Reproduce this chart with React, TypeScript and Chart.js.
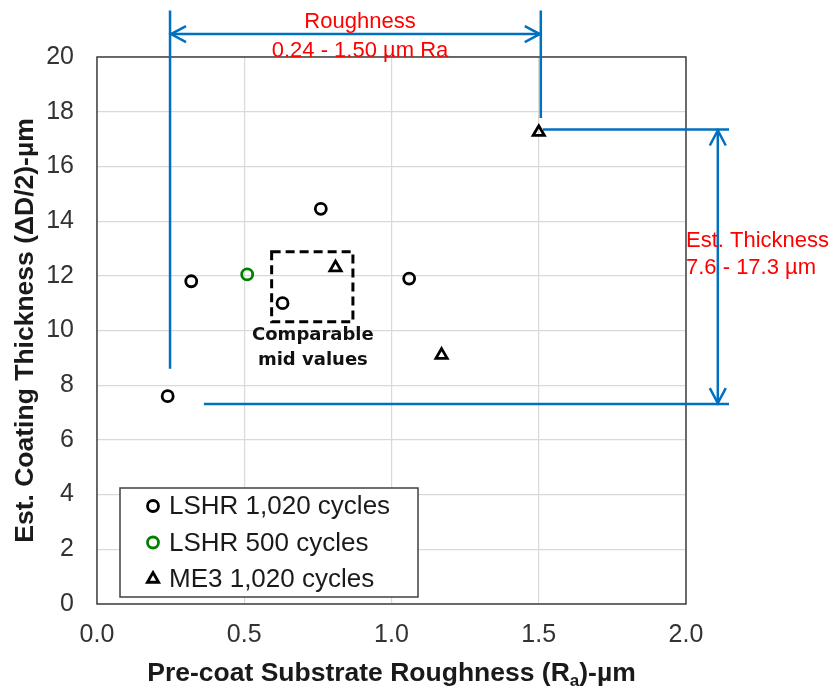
import React, { useEffect, useRef } from "react";
import { Chart, registerables } from "chart.js";

Chart.register(...registerables);

// ---- data ----
const xTickValues = [0, 0.5, 1.0, 1.5, 2.0];
const yTickValues = [0, 2, 4, 6, 8, 10, 12, 14, 16, 18, 20];
const seriesLabels = ["LSHR 1,020 cycles", "LSHR 500 cycles", "ME3 1,020 cycles"];
const lshr1020X = [0.24, 0.32, 0.63, 0.76, 1.06];
const lshr1020Y = [7.6, 11.8, 11.0, 14.45, 11.9];
const lshr500X = [0.51];
const lshr500Y = [12.05];
const me3X = [0.81, 1.17, 1.5];
const me3Y = [12.3, 9.1, 17.25];

// ---- annotation text ----
const roughText = ["Roughness", "0.24 - 1.50 µm Ra"];
const thickText = ["Est. Thickness", "7.6 - 17.3 µm"];
const boxText = ["Comparable", "mid values"];
const xTitleParts = ["Pre-coat Substrate Roughness (R", "a", ")-µm"];
const yTitle = "Est. Coating Thickness (ΔD/2)-µm";

// ---- annotation geometry (data coordinates) ----
const roughBracketX = [0.248, 1.507];
const roughBracketTopY = 21.7;
const roughBracketBottomY = [8.6, 17.77];
const roughArrowY = 20.84;
const thickBracketY = [17.35, 7.31];
const thickBracketLeftX = [1.514, 0.363];
const thickBracketRightX = 2.146;
const thickArrowX = 2.108;
const midBoxX = [0.593, 0.869];
const midBoxY = [10.32, 12.88];
const roughTextPos = { x: 0.893, y: [21.05, 20.0] };
const thickTextPos = { x: 2.0, y: [13.07, 12.05] };
const boxTextPos = { x: 0.733, y: [9.65, 8.74] };

const BLUE = "#0070C0";
const RED = "#FF0000";
const FONT = "'Liberation Sans', Arial, sans-serif";

const toPts = (xs: number[], ys: number[]) => xs.map((v, i) => ({ x: v, y: ys[i] }));

function drawMarker(ctx: CanvasRenderingContext2D, style: string, x: number, y: number, r: number, color: string, lw: number) {
  ctx.save();
  ctx.strokeStyle = color;
  ctx.lineWidth = lw;
  ctx.beginPath();
  if (style === "triangle") {
    let rad = 0;
    ctx.moveTo(x + Math.sin(rad) * r, y - Math.cos(rad) * r);
    rad += (2 * Math.PI) / 3;
    ctx.lineTo(x + Math.sin(rad) * r, y - Math.cos(rad) * r);
    rad += (2 * Math.PI) / 3;
    ctx.lineTo(x + Math.sin(rad) * r, y - Math.cos(rad) * r);
    ctx.closePath();
  } else {
    ctx.arc(x, y, r, 0, Math.PI * 2);
  }
  ctx.stroke();
  ctx.restore();
}

function arrowHead(ctx: CanvasRenderingContext2D, tx: number, ty: number, dx: number, dy: number) {
  const len = 15;
  const half = 8;
  const px = -dy;
  const py = dx;
  ctx.beginPath();
  ctx.moveTo(tx - dx * len + px * half, ty - dy * len + py * half);
  ctx.lineTo(tx, ty);
  ctx.lineTo(tx - dx * len - px * half, ty - dy * len - py * half);
  ctx.stroke();
}

const overlayPlugin = {
  id: "overlay",
  afterDraw(chart: any) {
    const { ctx, chartArea: ca, scales } = chart;
    const xs = scales.x;
    const ys = scales.y;
    const px = (v: number) => xs.getPixelForValue(v);
    const py = (v: number) => ys.getPixelForValue(v);
    ctx.save();

    // plot border
    ctx.strokeStyle = "#404040";
    ctx.lineWidth = 1.5;
    ctx.strokeRect(ca.left, ca.top, ca.right - ca.left, ca.bottom - ca.top);

    // legend
    const lx = ca.left + 23;
    const ly = ca.bottom - 116;
    const lw = 298;
    const lh = 109;
    ctx.fillStyle = "#ffffff";
    ctx.fillRect(lx, ly, lw, lh);
    ctx.strokeStyle = "#404040";
    ctx.lineWidth = 1.5;
    ctx.strokeRect(lx, ly, lw, lh);
    ctx.font = `26px ${FONT}`;
    ctx.textBaseline = "middle";
    ctx.textAlign = "left";
    chart.data.datasets.forEach((ds: any, i: number) => {
      const cy = ly + 18 + i * 36.5;
      drawMarker(ctx, ds.pointStyle, lx + 33, cy, ds.pointStyle === "triangle" ? 6.5 : 5.5, ds.borderColor, 2.8);
      ctx.fillStyle = "#1a1a1a";
      ctx.fillText(ds.label, lx + 49, cy + 1);
    });

    // dashed comparison box
    ctx.strokeStyle = "#000000";
    ctx.lineWidth = 3;
    ctx.setLineDash([9, 5]);
    const bx0 = px(midBoxX[0]);
    const bx1 = px(midBoxX[1]);
    const by0 = py(midBoxY[1]);
    const by1 = py(midBoxY[0]);
    ctx.strokeRect(bx0, by0, bx1 - bx0, by1 - by0);
    ctx.setLineDash([]);

    ctx.fillStyle = "#111111";
    ctx.font = `bold 18px 'DejaVu Sans', sans-serif`;
    ctx.textAlign = "center";
    ctx.textBaseline = "alphabetic";
    boxText.forEach((t, i) => ctx.fillText(t, px(boxTextPos.x), py(boxTextPos.y[i])));

    // blue roughness bracket
    ctx.strokeStyle = BLUE;
    ctx.lineWidth = 2.5;
    ctx.beginPath();
    ctx.moveTo(px(roughBracketX[0]), py(roughBracketTopY));
    ctx.lineTo(px(roughBracketX[0]), py(roughBracketBottomY[0]));
    ctx.moveTo(px(roughBracketX[1]), py(roughBracketTopY));
    ctx.lineTo(px(roughBracketX[1]), py(roughBracketBottomY[1]));
    ctx.moveTo(px(roughBracketX[0]), py(roughArrowY));
    ctx.lineTo(px(roughBracketX[1]), py(roughArrowY));
    ctx.stroke();
    arrowHead(ctx, px(roughBracketX[0]) + 1, py(roughArrowY), -1, 0);
    arrowHead(ctx, px(roughBracketX[1]) - 1, py(roughArrowY), 1, 0);

    // blue thickness bracket
    ctx.beginPath();
    ctx.moveTo(px(thickBracketLeftX[0]), py(thickBracketY[0]));
    ctx.lineTo(px(thickBracketRightX), py(thickBracketY[0]));
    ctx.moveTo(px(thickBracketLeftX[1]), py(thickBracketY[1]));
    ctx.lineTo(px(thickBracketRightX), py(thickBracketY[1]));
    ctx.moveTo(px(thickArrowX), py(thickBracketY[0]));
    ctx.lineTo(px(thickArrowX), py(thickBracketY[1]));
    ctx.stroke();
    arrowHead(ctx, px(thickArrowX), py(thickBracketY[0]) + 1, 0, -1);
    arrowHead(ctx, px(thickArrowX), py(thickBracketY[1]) - 1, 0, 1);

    // red texts
    ctx.fillStyle = RED;
    ctx.font = `22px ${FONT}`;
    ctx.textAlign = "center";
    roughText.forEach((t, i) => ctx.fillText(t, px(roughTextPos.x), py(roughTextPos.y[i])));
    ctx.textAlign = "left";
    thickText.forEach((t, i) => ctx.fillText(t, px(thickTextPos.x), py(thickTextPos.y[i])));

    // axis titles
    ctx.fillStyle = "#1a1a1a";
    const bigFont = `bold 26.5px ${FONT}`;
    const subFont = `bold 17px ${FONT}`;
    ctx.font = bigFont;
    const w0 = ctx.measureText(xTitleParts[0]).width;
    const w2 = ctx.measureText(xTitleParts[2]).width;
    ctx.font = subFont;
    const w1 = ctx.measureText(xTitleParts[1]).width;
    const total = w0 + w1 + w2;
    let tx = (ca.left + ca.right) / 2 - total / 2;
    const tb = 681;
    ctx.textAlign = "left";
    ctx.font = bigFont;
    ctx.fillText(xTitleParts[0], tx, tb);
    tx += w0;
    ctx.font = subFont;
    ctx.fillText(xTitleParts[1], tx, tb + 5);
    tx += w1;
    ctx.font = bigFont;
    ctx.fillText(xTitleParts[2], tx, tb);

    ctx.save();
    ctx.translate(33, (ca.top + ca.bottom) / 2);
    ctx.rotate(-Math.PI / 2);
    ctx.textAlign = "center";
    ctx.font = `bold 26.5px ${FONT}`;
    ctx.fillText(yTitle, 0, 0);
    ctx.restore();

    ctx.restore();
  },
};

export default function App() {
  const ref = useRef<HTMLCanvasElement | null>(null);
  useEffect(() => {
    if (!ref.current) return;
    const mk = (label: string, data: any[], style: string, r: number, color: string) => ({
      label,
      data,
      pointStyle: style,
      pointRadius: r,
      pointBorderWidth: 2.8,
      borderColor: color,
      pointBorderColor: color,
      backgroundColor: "rgba(0,0,0,0)",
      pointBackgroundColor: "rgba(0,0,0,0)",
    });
    const chart = new Chart(ref.current, {
      type: "scatter",
      data: {
        datasets: [
          mk(seriesLabels[0], toPts(lshr1020X, lshr1020Y), "circle", 5.5, "#000000"),
          mk(seriesLabels[1], toPts(lshr500X, lshr500Y), "circle", 5.5, "#008000"),
          mk(seriesLabels[2], toPts(me3X, me3Y), "triangle", 6.5, "#000000"),
        ] as any,
      },
      options: {
        responsive: false,
        devicePixelRatio: 1,
        animation: false,
        layout: { padding: { top: 57, right: 148, left: 0, bottom: 0 } },
        plugins: { legend: { display: false }, tooltip: { enabled: false } },
        scales: {
          x: {
            type: "linear",
            min: 0,
            max: 2,
            afterFit: (s: any) => {
              s.height = 84;
            },
            afterBuildTicks: (s: any) => {
              s.ticks = xTickValues.map((v) => ({ value: v }));
            },
            ticks: {
              padding: 16,
              color: "#333333",
              font: { family: FONT, size: 25 },
              callback: (v: any) => Number(v).toFixed(1),
            },
            grid: { color: "#d9d9d9", lineWidth: 1.2, drawTicks: false },
            border: { display: false },
          },
          y: {
            type: "linear",
            min: 0,
            max: 20,
            afterFit: (s: any) => {
              s.width = 97;
            },
            afterBuildTicks: (s: any) => {
              s.ticks = yTickValues.map((v) => ({ value: v }));
            },
            ticks: {
              padding: 23,
              color: "#333333",
              font: { family: FONT, size: 25 },
            },
            grid: { color: "#d9d9d9", lineWidth: 1.2, drawTicks: false },
            border: { display: false },
          },
        },
      } as any,
      plugins: [overlayPlugin],
    });
    return () => chart.destroy();
  }, []);
  return (
    <div style={{ position: "fixed", left: 0, top: 0, width: 834, height: 688, background: "#ffffff" }}>
      <canvas ref={ref} width={834} height={688} style={{ display: "block", width: 834, height: 688 }} />
    </div>
  );
}
